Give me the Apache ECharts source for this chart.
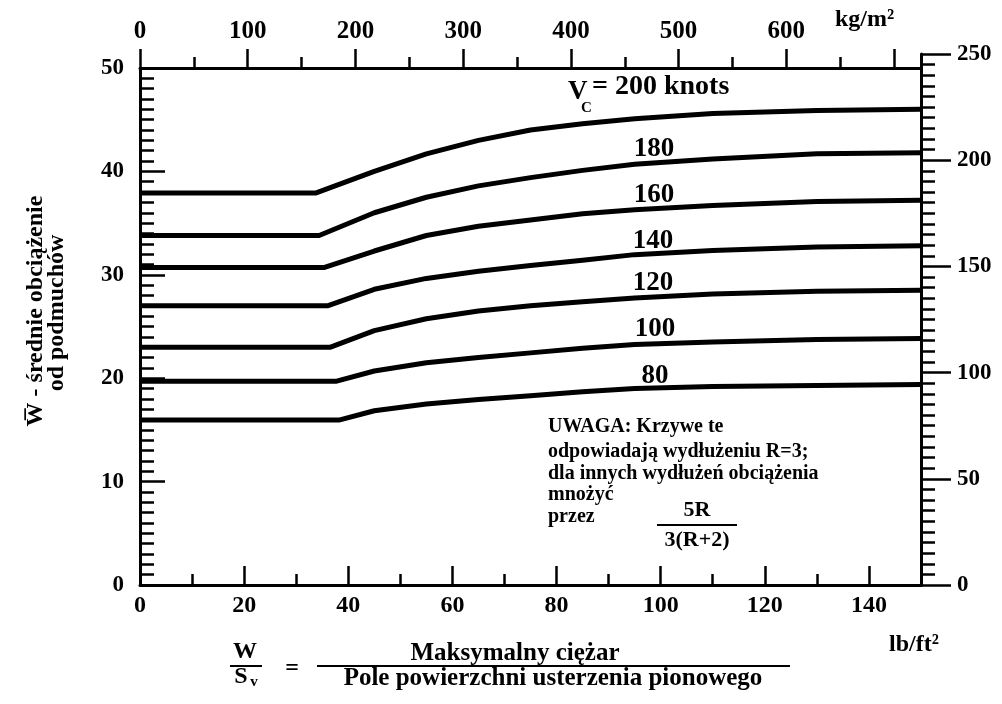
<!DOCTYPE html>
<html>
<head>
<meta charset="utf-8">
<script src="https://cdn.jsdelivr.net/npm/echarts@6/dist/echarts.min.js"></script>
<style>
html,body{margin:0;padding:0;background:#fff;}
#c{width:1002px;height:704px;}
</style>
</head>
<body>
<div id="c"></div>
<script>
// ---- data (x in lb/ft^2, y = mean gust load) ----
const speeds = ['200', '180', '160', '140', '120', '100', '80'];
const v200 = [[0,37.9],[33.7,37.9],[45,40.0],[55,41.7],[65,43.0],[75,44.0],[85,44.6],[95,45.1],[110,45.6],[130,45.9],[150,46.0]];
const v180 = [[0,33.8],[34.4,33.8],[45,36.0],[55,37.5],[65,38.6],[75,39.4],[85,40.1],[95,40.7],[110,41.2],[130,41.7],[150,41.8]];
const v160 = [[0,30.7],[35.3,30.7],[45,32.3],[55,33.8],[65,34.7],[75,35.3],[85,35.9],[95,36.3],[110,36.7],[130,37.1],[150,37.2]];
const v140 = [[0,27.0],[36.0,27.0],[45,28.6],[55,29.65],[65,30.35],[75,30.9],[85,31.4],[95,31.95],[110,32.35],[130,32.7],[150,32.8]];
const v120 = [[0,23.0],[36.6,23.0],[45,24.6],[55,25.75],[65,26.5],[75,27.0],[85,27.4],[95,27.75],[110,28.15],[130,28.4],[150,28.5]];
const v100 = [[0,19.7],[37.6,19.7],[45,20.7],[55,21.5],[65,22.0],[75,22.45],[85,22.9],[95,23.25],[110,23.5],[130,23.75],[150,23.85]];
const v80  = [[0,15.95],[38.2,15.95],[45,16.85],[55,17.5],[65,17.95],[75,18.3],[85,18.7],[95,19.0],[110,19.2],[130,19.3],[150,19.4]];
const curves = [v200, v180, v160, v140, v120, v100, v80];

const bottomMajor = [0,20,40,60,80,100,120,140];
const bottomMinor = [10,30,50,70,90,110,130];
const topMajor = [0,100,200,300,400,500,600,700];
const topLabels = [0,100,200,300,400,500,600];
const topMinor = [50,150,250,350,450,550,650];

const FONT = '"Liberation Serif", "Times New Roman", serif';
const chart = echarts.init(document.getElementById('c'), null, {renderer:'canvas'});

function txt(x, y, text, size, opts) {
  opts = opts || {};
  return {
    type: 'text', x: x, y: y, rotation: opts.rotation || 0, z: 10,
    style: {
      text: text, fill: '#000',
      fontFamily: FONT, fontSize: size, fontWeight: opts.weight || 'bold',
      align: opts.align || 'left', verticalAlign: opts.va || 'middle'
    }
  };
}
function ln(x1, y1, x2, y2, w) {
  return {type:'line', z: 10, shape:{x1:x1,y1:y1,x2:x2,y2:y2}, style:{stroke:'#000', lineWidth:w||2}};
}

const tickStyle = {color:'#000', width:2.5};
const lineStyle = {color:'#000', width:3};

const option = {
  backgroundColor: '#fff',
  animation: false,
  grid: [
    {left:140, right:81, top:68, bottom:119},
    {left:140, right:81, top:54, bottom:119}
  ],
  xAxis: [
    {type:'value', gridIndex:0, position:'bottom', min:0, max:150,
     axisLine:{show:true, onZero:false, lineStyle:lineStyle},
     axisTick:{show:true, inside:true, length:19, lineStyle:tickStyle, customValues: bottomMajor},
     axisLabel:{show:true, margin:9, color:'#000', fontFamily:FONT, fontWeight:'bold', fontSize:24, customValues: bottomMajor},
     splitLine:{show:false}},
    {type:'value', gridIndex:0, position:'bottom', min:0, max:150,
     axisLine:{show:false, onZero:false},
     axisTick:{show:true, inside:true, length:11, lineStyle:tickStyle, customValues: bottomMinor},
     axisLabel:{show:false}, splitLine:{show:false}},
    {type:'value', gridIndex:0, position:'top', min:0, max:725,
     axisLine:{show:true, onZero:false, lineStyle:lineStyle},
     axisTick:{show:true, inside:false, length:19, lineStyle:tickStyle, customValues: topMajor},
     axisLabel:{show:true, margin:24, color:'#000', fontFamily:FONT, fontWeight:'bold', fontSize:25, customValues: topLabels},
     splitLine:{show:false}},
    {type:'value', gridIndex:0, position:'top', min:0, max:725,
     axisLine:{show:false, onZero:false},
     axisTick:{show:true, inside:false, length:11, lineStyle:tickStyle, customValues: topMinor},
     axisLabel:{show:false}, splitLine:{show:false}},
    {type:'value', gridIndex:1, show:false, min:0, max:150, axisLine:{onZero:false}}
  ],
  yAxis: [
    {type:'value', gridIndex:0, position:'left', min:0, max:50, interval:10,
     axisLine:{show:true, onZero:false, lineStyle:lineStyle},
     axisTick:{show:true, inside:true, length:25, lineStyle:tickStyle},
     minorTick:{show:true, splitNumber:10, length:14, lineStyle:{color:'#000', width:2.5}},
     axisLabel:{show:true, margin:16, color:'#000', fontFamily:FONT, fontWeight:'bold', fontSize:23},
     splitLine:{show:false}, minorSplitLine:{show:false}},
    {type:'value', gridIndex:1, position:'right', min:0, max:250, interval:50,
     axisLine:{show:true, onZero:false, lineStyle:lineStyle},
     axisTick:{show:true, inside:false, length:30, lineStyle:tickStyle},
     minorTick:{show:true, splitNumber:10, length:14, lineStyle:{color:'#000', width:2.5}},
     axisLabel:{show:true, margin:36, color:'#000', fontFamily:FONT, fontWeight:'bold', fontSize:23},
     splitLine:{show:false}, minorSplitLine:{show:false}}
  ],
  series: curves.map((d, i) => ({
    name: speeds[i], type:'line', xAxisIndex:0, yAxisIndex:0,
    data: d, showSymbol:false, symbol:'none',
    smooth: false,
    lineStyle:{color:'#000', width:5, join:'round', cap:'butt'}
  })),
  graphic: [
    // curve labels
    txt(568, 92, 'V', 27),
    txt(581, 108, 'C', 15),
    txt(592, 87, '= 200 knots', 28),
    txt(654, 149, '180', 27, {align:'center'}),
    txt(654, 195, '160', 27, {align:'center'}),
    txt(653, 241, '140', 27, {align:'center'}),
    txt(653, 283, '120', 27, {align:'center'}),
    txt(655, 329, '100', 27, {align:'center'}),
    txt(655, 376, '80', 27, {align:'center'}),
    // note
    txt(548, 427, 'UWAGA: Krzywe te', 20),
    txt(548, 452, 'odpowiadają wydłużeniu R=3;', 20),
    txt(548, 474, 'dla innych wydłużeń obciążenia', 20),
    txt(548, 495, 'mnożyć', 20),
    txt(548, 517, 'przez', 20),
    txt(697, 510, '5R', 22, {align:'center'}),
    ln(657, 525, 737, 525, 2),
    txt(697, 540, '3(R+2)', 22, {align:'center'}),
    // units
    txt(835, 20, 'kg/m²', 24),
    txt(889, 645, 'lb/ft²', 24),
    // y axis title
    txt(36, 311, 'W\u0305 - średnie obciążenie', 24, {align:'center', rotation: Math.PI/2}),
    txt(57, 313, 'od podmuchów', 24, {align:'center', rotation: Math.PI/2}),
    // bottom formula
    txt(245, 652, 'W', 24, {align:'center'}),
    ln(230, 666, 262, 666, 2),
    txt(241, 677, 'S', 24, {align:'center'}),
    txt(254, 682, 'v', 15, {align:'center'}),
    txt(292, 669, '=', 24, {align:'center'}),
    txt(515, 654, 'Maksymalny ciężar', 25, {align:'center'}),
    ln(317, 666, 790, 666, 2),
    txt(553, 679, 'Pole powierzchni usterzenia pionowego', 25, {align:'center'})
  ]
};
chart.setOption(option);
</script>
</body>
</html>
